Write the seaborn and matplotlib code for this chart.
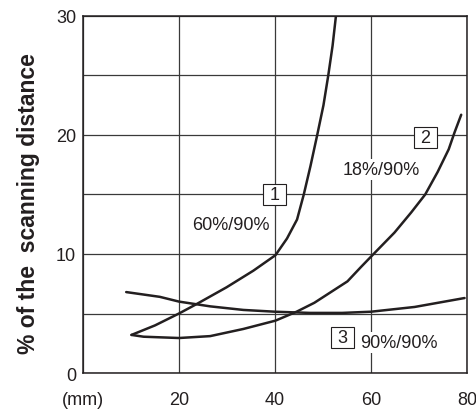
import numpy as np
import pandas as pd
import matplotlib
matplotlib.use("Agg")
import matplotlib.pyplot as plt
import seaborn as sns

# curve 1: 60%/90%
curve1_x = [10.1, 15, 20, 23.7, 29.9, 35.5, 40.1, 42.5, 44.6, 46.0, 47.4, 48.8, 50.1, 51.1, 52.0, 52.7]
curve1_y = [3.2, 4.0, 5.0, 5.8, 7.2, 8.6, 9.9, 11.3, 12.9, 15.0, 17.4, 20.0, 22.5, 25.0, 27.5, 30.0]
# curve 2: 18%/90%
curve2_x = [10.1, 12.6, 20, 26.5, 33.4, 40.1, 44.5, 48.2, 55.1, 57.9, 60.3, 64.9, 68.4, 71.3, 73.9, 76.2, 77.4, 78.8]
curve2_y = [3.2, 3.05, 2.94, 3.1, 3.7, 4.4, 5.15, 5.9, 7.7, 8.9, 9.9, 11.8, 13.5, 15.0, 16.9, 18.8, 20.2, 21.7]
# curve 3: 90%/90%
curve3_x = [9.0, 16, 20, 26.5, 33.4, 40, 47.3, 54, 60, 69.1, 79.5]
curve3_y = [6.8, 6.4, 6.0, 5.6, 5.3, 5.15, 5.05, 5.05, 5.15, 5.55, 6.3]

x_ticks = [0, 20, 40, 60, 80]
x_tick_labels = ['(mm)', '20', '40', '60', '80']
y_ticks = [0, 5, 10, 15, 20, 25, 30]
y_tick_labels = ['0', '', '10', '', '20', '', '30']

curve_ids = ['1', '2', '3']
curve_labels = ['60%/90%', '18%/90%', '90%/90%']

ink = '#231f20'

sns.set_style('white')
plt.rcParams['font.family'] = ['Liberation Sans', 'DejaVu Sans']

fig = plt.figure(figsize=(4.76, 4.14), dpi=100)
ax = fig.add_axes([0.1744, 0.0966, 0.8066, 0.8624])

curves = [(curve1_x, curve1_y), (curve2_x, curve2_y), (curve3_x, curve3_y)]
for cx, cy in curves:
    df = pd.DataFrame({'x': cx, 'y': cy})
    sns.lineplot(data=df, x='x', y='y', sort=False, estimator=None,
                 color=ink, linewidth=1.8, ax=ax, zorder=3)

ax.set_xlim(0, 80)
ax.set_ylim(0, 30)
ax.set_xticks(x_ticks)
ax.set_xticklabels(x_tick_labels)
ax.set_yticks(y_ticks)
ax.set_yticklabels(y_tick_labels)
ax.tick_params(length=0, labelsize=13, labelcolor=ink)
ax.tick_params(axis='x', pad=13)
ax.tick_params(axis='y', pad=5)
ax.grid(True, color='#3a3a3a', linewidth=0.9)
for s in ax.spines.values():
    s.set_color(ink)
    s.set_linewidth(1.1)
    s.set_visible(True)

ax.set_xlabel('')
ax.set_ylabel('% of the  scanning distance', fontsize=16.5, fontweight='bold',
              color=ink, va='center')
ax.yaxis.set_label_coords(-0.141, 0.476)

box = dict(boxstyle='square,pad=0.1', facecolor='white', edgecolor=ink, linewidth=0.8)
# numbered boxes
ax.text(39.9, 15.0, ' ' + curve_ids[0] + ' ', ha='center', va='center', fontsize=13,
        color=ink, bbox=box, zorder=4)
ax.text(71.4, 19.8, ' ' + curve_ids[1] + ' ', ha='center', va='center', fontsize=13,
        color=ink, bbox=box, zorder=4)
ax.text(54.1, 3.0, ' ' + curve_ids[2] + ' ', ha='center', va='center', fontsize=13,
        color=ink, bbox=box, zorder=4)
# curve labels
lab_bg = dict(boxstyle='square,pad=0.1', facecolor='white', edgecolor='none')
ax.text(30.8, 12.5, curve_labels[0], ha='center', va='center', fontsize=13,
        color=ink, bbox=lab_bg, zorder=4)
ax.text(62.1, 17.1, curve_labels[1], ha='center', va='center', fontsize=13,
        color=ink, bbox=lab_bg, zorder=4)
ax.text(57.8, 2.55, curve_labels[2], ha='left', va='center', fontsize=13,
        color=ink, bbox=lab_bg, zorder=4)

fig.savefig('out.png', dpi=100)
